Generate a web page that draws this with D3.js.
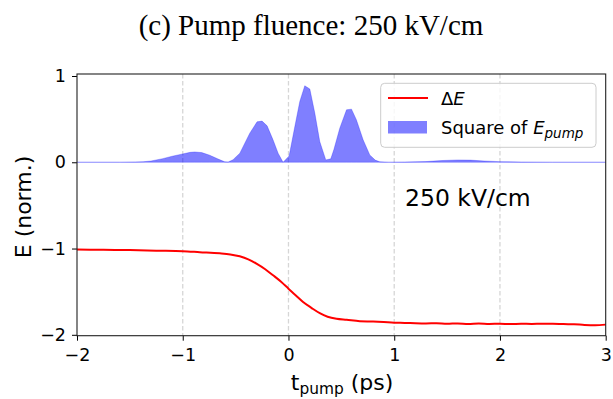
<!DOCTYPE html>
<html><head><meta charset="utf-8">
<script src="https://cdn.jsdelivr.net/npm/d3@7"></script>
<style>body{margin:0;background:#fff}svg{display:block}</style>
</head><body>
<svg id="c" width="613" height="399"></svg>
<script>
// ---- data ----
const pumpT = [-2.0,-1.6,-1.45,-1.375,-1.3,-1.19,-1.1,-1.0,-0.93,-0.886,-0.82,-0.745,-0.67,-0.603,-0.57,-0.524,-0.46,-0.366,-0.297,-0.25,-0.202,-0.146,-0.098,-0.051,0.006,0.06,0.107,0.154,0.202,0.249,0.296,0.353,0.40,0.43,0.485,0.549,0.596,0.643,0.706,0.769,0.82,0.864,0.95,1.1,1.3,1.45,1.6,1.72,1.85,2.0,2.2,2.5,3.0];
const pumpV = [0,0,0.003,0.006,0.015,0.042,0.07,0.097,0.115,0.12,0.112,0.082,0.04,0.005,0.003,0.03,0.105,0.337,0.469,0.477,0.422,0.26,0.105,0.0,0.073,0.414,0.705,0.887,0.849,0.57,0.24,0.027,0.04,0.15,0.395,0.608,0.616,0.49,0.26,0.085,0.025,0.005,0.0,0.002,0.008,0.02,0.027,0.025,0.015,0.007,0.002,0,0];
const dET = [-2,-1.75,-1.5,-1.25,-1.0,-0.839,-0.65,-0.55,-0.461,-0.38,-0.303,-0.22,-0.146,-0.07,0,0.07,0.138,0.22,0.296,0.37,0.454,0.55,0.675,0.8,0.9,1.0,1.1,1.2,1.3,1.4,1.5,1.6,1.7,1.8,1.9,2.0,2.1,2.2,2.3,2.4,2.5,2.6,2.7,2.8,2.9,3.0];
const dEV = [-1.012,-1.015,-1.018,-1.025,-1.031,-1.042,-1.055,-1.068,-1.09,-1.125,-1.175,-1.24,-1.31,-1.385,-1.465,-1.545,-1.62,-1.69,-1.749,-1.79,-1.814,-1.826,-1.842,-1.846,-1.852,-1.86,-1.862,-1.866,-1.868,-1.865,-1.872,-1.868,-1.876,-1.87,-1.874,-1.872,-1.876,-1.872,-1.874,-1.872,-1.872,-1.876,-1.878,-1.885,-1.888,-1.882];
const xTicks = [-2,-1,0,1,2,3];
const yTicks = [-2,-1,0,1];
const gridTicks = [-1,0,1,2];
const xDomain = [-2,3];
const yDomain = [-2.0104,1.0232];

// ---- layout ----
const L=77, T=74, R=605.7, B=335.7;
const svg = d3.select("#c");
const x = d3.scaleLinear().domain(xDomain).range([L,R]);
const y = d3.scaleLinear().domain(yDomain).range([B,T]);
const font = "'DejaVu Sans', sans-serif";
const fmt = d3.format("d");

// title
svg.append("text").attr("x",311).attr("y",35).attr("text-anchor","middle")
  .attr("font-family","'Liberation Serif','Times New Roman',serif").attr("font-size",29)
  .attr("fill","#000").text("(c) Pump fluence: 250 kV/cm");

// grid
svg.append("g").selectAll("line").data(gridTicks).join("line")
  .attr("x1",d=>x(d)).attr("x2",d=>x(d)).attr("y1",T).attr("y2",B)
  .attr("stroke","#d6d6d6").attr("stroke-width",1.3).attr("stroke-dasharray","4.5,2.5");

// pump area
const pumpData = pumpT.map((t,i)=>({t, v:pumpV[i]}));
svg.append("path").datum(pumpData)
  .attr("d", d3.area().x(d=>x(d.t)).y0(y(0)).y1(d=>y(d.v)))
  .attr("fill","#0000ff").attr("fill-opacity",0.5)
  .attr("stroke","#0000ff").attr("stroke-opacity",0.25).attr("stroke-width",1);

// delta E line
const dEData = dET.map((t,i)=>({t, v:dEV[i]}));
svg.append("path").datum(dEData)
  .attr("d", d3.line().x(d=>x(d.t)).y(d=>y(d.v)).curve(d3.curveMonotoneX))
  .attr("fill","none").attr("stroke","#ff0000").attr("stroke-width",2);

// axes
const xa = svg.append("g").attr("transform",`translate(0,${B})`)
  .call(d3.axisBottom(x).tickValues(xTicks).tickFormat(fmt).tickSize(5).tickPadding(8).tickSizeOuter(0));
const ya = svg.append("g").attr("transform",`translate(${L},0)`)
  .call(d3.axisLeft(y).tickValues(yTicks).tickFormat(fmt).tickSize(5).tickPadding(6).tickSizeOuter(0));
[xa,ya].forEach(g=>{
  g.select(".domain").remove();
  g.selectAll(".tick line").attr("stroke","#000").attr("stroke-width",1);
  g.selectAll(".tick text").attr("font-family",font).attr("font-size",17.5).attr("fill","#000");
});

// spines
svg.append("rect").attr("x",L).attr("y",T).attr("width",R-L).attr("height",B-T)
  .attr("fill","none").attr("stroke","#222").attr("stroke-width",1.1);

// axis labels
const xl = svg.append("text").attr("x",342).attr("y",390).attr("text-anchor","middle")
  .attr("font-family",font).attr("font-size",22).attr("fill","#000");
xl.append("tspan").text("t");
xl.append("tspan").attr("font-size",15.4).attr("dy",4).text("pump");
xl.append("tspan").attr("dy",-4).text(" (ps)");

svg.append("text").attr("transform","translate(31,207) rotate(-90)").attr("text-anchor","middle")
  .attr("font-family",font).attr("font-size",22).attr("fill","#000").text("E (norm.)");

// annotation
svg.append("text").attr("x",405).attr("y",206).attr("font-family",font).attr("font-size",23.5)
  .attr("fill","#000").text("250 kV/cm");

// legend
const lg = svg.append("g");
lg.append("rect").attr("x",380.7).attr("y",83.3).attr("width",215.3).attr("height",64)
  .attr("rx",4).attr("fill","#fff").attr("fill-opacity",0.8).attr("stroke","#cccccc").attr("stroke-width",1);
lg.append("line").attr("x1",388).attr("x2",428).attr("y1",98).attr("y2",98)
  .attr("stroke","#ff0000").attr("stroke-width",2);
lg.append("rect").attr("x",388).attr("y",121).attr("width",39).attr("height",12.5)
  .attr("fill","#0000ff").attr("fill-opacity",0.5);
const t1 = lg.append("text").attr("x",441).attr("y",104.5).attr("font-family",font).attr("font-size",18).attr("fill","#000");
t1.append("tspan").text("Δ");
t1.append("tspan").attr("font-style","italic").text("E");
const t2 = lg.append("text").attr("x",441).attr("y",134).attr("font-family",font).attr("font-size",18).attr("fill","#000");
t2.append("tspan").text("Square of ");
t2.append("tspan").attr("font-style","italic").text("E");
t2.append("tspan").attr("font-style","italic").attr("font-size",13.5).attr("dy",3.5).text("pump");
</script>
</body></html>
